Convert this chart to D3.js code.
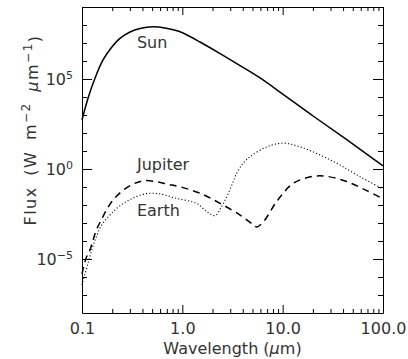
<!DOCTYPE html>
<html>
<head>
<meta charset="utf-8">
<script src="https://cdn.jsdelivr.net/npm/d3@7"></script>
<style>
body { margin: 0; background: #fff; }
svg text { font-family: "DejaVu Sans", sans-serif; fill: #333; }
.tick text { font-size: 16px; }
.tick line, .domain { stroke: #000; }
</style>
</head>
<body>
<div class="chart"></div>
<script>
// values (wavelength in micron, flux in W m^-2 micron^-1)
const sunWavelength = [0.1, 0.115, 0.135, 0.162, 0.195, 0.239, 0.301, 0.379, 0.51, 0.673, 0.906, 1.19, 1.5, 2.38, 3.76, 5.96, 10.1, 20.1, 43.9, 100];
const sunFlux = [525, 8.8e3, 1.14e5, 1.14e6, 5.3e6, 1.8e7, 4.1e7, 6.4e7, 8.0e7, 6.9e7, 4.6e7, 2.3e7, 1.14e7, 2.6e6, 5.6e5, 1.14e5, 1.4e4, 880, 41, 1.5];

const jupiterWavelength = [0.1, 0.11, 0.12, 0.139, 0.156, 0.175, 0.204, 0.247, 0.31, 0.405, 0.55, 0.72, 0.906, 1.5, 2.38, 3.76, 5.0, 5.5, 6.43, 8.79, 12.8, 20.2, 27.5, 43.6, 68.9, 100];
const jupiterFlux = [1.5e-6, 1.15e-5, 3.2e-5, 4.1e-4, 1.5e-3, 5.2e-3, 0.019, 0.055, 0.13, 0.22, 0.2, 0.14, 0.11, 0.045, 0.0123, 2.75e-3, 8.7e-4, 6.0e-4, 1.17e-3, 0.0166, 0.162, 0.39, 0.39, 0.2, 0.063, 0.022];

const earthWavelength = [0.1, 0.115, 0.126, 0.14, 0.157, 0.19, 0.245, 0.33, 0.45, 0.6, 0.88, 1.39, 1.75, 2.12, 2.45, 2.77, 3.12, 3.48, 4.04, 4.73, 6.95, 10.1, 14.9, 23.6, 37.3, 59.2, 100];
const earthFlux = [3.6e-7, 6e-6, 3.6e-5, 1.9e-4, 7.8e-4, 2.8e-3, 0.01, 0.026, 0.044, 0.041, 0.023, 0.0123, 4.3e-3, 2.6e-3, 7.8e-3, 0.029, 0.13, 0.58, 2.1, 4.8, 17, 27, 17, 6.0, 1.66, 0.37, 0.078];

const xTickValues = [0.1, 1, 10, 100];
const xTickLabels = ["0.1", "1.0", "10.0", "100.0"];
const yTickValues = [1e-5, 1, 1e5];
const yTickExponents = ["\u22125", "0", "5"];

const labelNames = ["Sun", "Jupiter", "Earth"];
const labelWavelength = [0.353, 0.353, 0.353];
const labelFlux = [5.2e6, 0.88, 2.5e-3];

const w = 408;
const h = 359;
const margin = {top: 7, right: 25, bottom: 46, left: 82};

const svg = d3.select(".chart")
    .append("svg")
    .attr("width", w)
    .attr("height", h);

const xScale = d3.scaleLog()
    .domain([0.1, 100])
    .range([margin.left, w - margin.right]);

const yScale = d3.scaleLog()
    .domain([1e-8, 1e9])
    .range([h - margin.bottom, margin.top]);

// minor ticks: 2..9 in each decade on x, every decade on y
let xMinor = [];
[0.1, 1, 10].forEach(d => { for (let k = 2; k <= 9; k++) xMinor.push(d * k); });
let yMinor = [];
for (let e = -7; e <= 8; e++) { if (e % 5 !== 0) yMinor.push(Math.pow(10, e)); }

let drawAxes = () => {
    const bottom = h - margin.bottom;
    const right = w - margin.right;

    svg.append("g")
        .attr("transform", "translate(0," + bottom + ")")
        .call(d3.axisBottom(xScale).tickValues(xTickValues).tickSize(-8).tickSizeOuter(0)
            .tickPadding(10).tickFormat((d, i) => xTickLabels[i]));
    svg.append("g")
        .attr("transform", "translate(0," + bottom + ")")
        .call(d3.axisBottom(xScale).tickValues(xMinor).tickSize(-4).tickSizeOuter(0).tickFormat(""))
        .select(".domain").remove();

    svg.append("g")
        .attr("transform", "translate(0," + margin.top + ")")
        .call(d3.axisTop(xScale).tickValues(xTickValues).tickSize(-8).tickSizeOuter(0).tickFormat(""));
    svg.append("g")
        .attr("transform", "translate(0," + margin.top + ")")
        .call(d3.axisTop(xScale).tickValues(xMinor).tickSize(-4).tickSizeOuter(0).tickFormat(""))
        .select(".domain").remove();

    const yAxis = svg.append("g")
        .attr("transform", "translate(" + margin.left + ",0)")
        .call(d3.axisLeft(yScale).tickValues(yTickValues).tickSize(-10).tickSizeOuter(0)
            .tickPadding(9).tickFormat(() => "10"));
    yAxis.selectAll(".tick text")
        .append("tspan")
        .attr("dy", "-0.5em")
        .style("font-size", "11px")
        .text((d, i) => yTickExponents[i]);
    svg.append("g")
        .attr("transform", "translate(" + margin.left + ",0)")
        .call(d3.axisLeft(yScale).tickValues(yMinor).tickSize(-5).tickSizeOuter(0).tickFormat(""))
        .select(".domain").remove();

    svg.append("g")
        .attr("transform", "translate(" + right + ",0)")
        .call(d3.axisRight(yScale).tickValues(yTickValues).tickSize(-10).tickSizeOuter(0).tickFormat(""));
    svg.append("g")
        .attr("transform", "translate(" + right + ",0)")
        .call(d3.axisRight(yScale).tickValues(yMinor).tickSize(-5).tickSizeOuter(0).tickFormat(""))
        .select(".domain").remove();
}

let drawLines = () => {
    const line = d3.line()
        .x(d => xScale(d[0]))
        .y(d => yScale(d[1]))
        .curve(d3.curveCatmullRom.alpha(0.5));

    const series = [
        {wl: sunWavelength, fx: sunFlux, width: 1.5, dash: null},
        {wl: jupiterWavelength, fx: jupiterFlux, width: 1.5, dash: "7,5"},
        {wl: earthWavelength, fx: earthFlux, width: 1.1, dash: "1.1,2.2"}
    ];

    series.forEach(s => {
        svg.append("path")
            .datum(d3.zip(s.wl, s.fx))
            .attr("d", line)
            .attr("fill", "none")
            .attr("stroke", "#000")
            .attr("stroke-width", s.width)
            .attr("stroke-dasharray", s.dash);
    });

    svg.selectAll(".curve-label")
        .data(labelNames)
        .enter()
        .append("text")
        .attr("class", "curve-label")
        .attr("x", (d, i) => xScale(labelWavelength[i]))
        .attr("y", (d, i) => yScale(labelFlux[i]))
        .style("font-size", "16px")
        .text(d => d);
}

let drawTitles = () => {
    const xt = svg.append("text")
        .attr("x", (margin.left + w - margin.right) / 2)
        .attr("y", 354)
        .attr("text-anchor", "middle")
        .style("font-size", "16px");
    xt.append("tspan").text("Wavelength (");
    xt.append("tspan").style("font-style", "italic").text("\u00b5");
    xt.append("tspan").text("m)");

    const yt = svg.append("text")
        .attr("transform", "translate(36,130) rotate(-90)")
        .attr("text-anchor", "middle")
        .style("font-size", "16px")
        .style("letter-spacing", "1.5px")
        .style("word-spacing", "4px");
    yt.append("tspan").text("Flux (W m");
    yt.append("tspan").attr("dy", "-0.5em").style("font-size", "12px").text("\u22122");
    yt.append("tspan").attr("dy", "0.5em").text("  ");
    yt.append("tspan").style("font-style", "italic").text("\u00b5");
    yt.append("tspan").text("m");
    yt.append("tspan").attr("dy", "-0.5em").style("font-size", "12px").text("\u22121");
    yt.append("tspan").attr("dy", "0.5em").text(")");
}

drawAxes();
drawLines();
drawTitles();
</script>
</body>
</html>
